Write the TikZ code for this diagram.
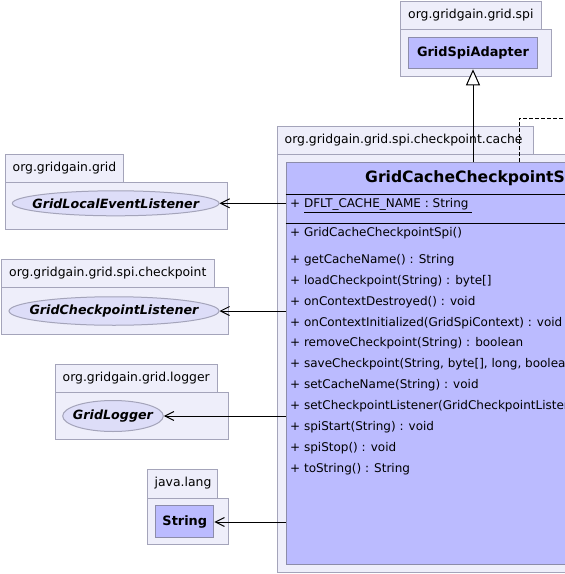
\documentclass[tikz,border=0pt]{standalone}
\usepackage{fontspec}
\setmainfont{DejaVu Sans}
\usetikzlibrary{arrows.meta,shapes.geometric}
\definecolor{pkgfill}{HTML}{EEEEFA}
\definecolor{pkgline}{HTML}{A4A4BA}
\definecolor{clsfill}{HTML}{BBBBFF}
\definecolor{clsline}{HTML}{8C8CAA}
\definecolor{ellfill}{HTML}{DDDDF8}
\begin{document}
\begin{tikzpicture}[x=1pt,y=-1pt,
  pkgbox/.style={draw=pkgline, fill=pkgfill, line width=1pt, inner sep=0pt, anchor=north west},
  clsbox/.style={draw=clsline, fill=clsfill, line width=1pt, inner sep=0pt, anchor=north west},
  ellnode/.style={ellipse, draw=pkgline, fill=ellfill, line width=1pt, inner sep=0pt},
  elltext/.style={inner sep=0pt, font=\fontsize{12.7}{15}\selectfont\bfseries\itshape},
  pkglabel/.style={anchor=west, inner sep=0pt, font=\fontsize{12.4}{15}\selectfont},
  clsname/.style={font=\fontsize{12.9}{15}\selectfont\bfseries, inner sep=0pt},
  member/.style={anchor=west, inner sep=0pt, font=\fontsize{12}{14}\selectfont},
  dep/.style={draw=black, line width=1pt, -{Straight Barb[length=9pt,width=9pt]}},
  inh/.style={draw=black, line width=1pt, -{Triangle[open, fill=white, length=16pt, width=14pt]}},
  realize/.style={draw=black, line width=1pt, dash pattern=on 4pt off 2pt}]
\useasboundingbox (0,0) rectangle (565,574);
\clip (0,0) rectangle (565,574);
\fill[white] (0,0) rectangle (565,574);

% package org.gridgain.grid.spi
\node[pkgbox, minimum width=140.7pt, minimum height=28pt] (spitab) at (400,1) {};
\node[pkgbox, minimum width=150.7pt, minimum height=47.3pt] (spibody) at (400,29) {};
\node[pkglabel] (spilabel) at (408,15) {org.gridgain.grid.spi};
\node[clsbox, minimum width=128.4pt, minimum height=31pt, clsname] (adapter) at (408.3,37.3) {GridSpiAdapter};

% package org.gridgain.grid.spi.checkpoint.cache
\node[pkgbox, minimum width=255.4pt, minimum height=28.3pt] (cachetab) at (277.3,126) {};
\node[pkgbox, minimum width=400pt, minimum height=418pt] (cachebody) at (277.3,154.3) {};
\node[pkglabel] (cachelabel) at (284.5,140.5) {org.gridgain.grid.spi.checkpoint.cache};
\node[clsbox, minimum width=375pt, minimum height=402pt] (main) at (285.5,162.3) {};
\node[font=\fontsize{15.6}{18}\selectfont\bfseries, inner sep=0pt, anchor=west] (title) at (365,178.5) {GridCacheCheckpointSpi};
\draw[black, line width=1pt] (285.5,194) -- (660.5,194);
\draw[black, line width=1pt] (285.5,223.3) -- (660.5,223.3);
\node[member] (f1) at (290,205.7) {+ \underline{DFLT\_CACHE\_NAME : String\ }};
\node[member] (c1) at (290,232.7) {+ GridCacheCheckpointSpi()};
\node[member] (m1) at (290,260.0) {+ getCacheName() : String};
\node[member] (m2) at (290,280.9) {+ loadCheckpoint(String) : byte[]};
\node[member] (m3) at (290,301.8) {+ onContextDestroyed() : void};
\node[member] (m4) at (290,322.7) {+ onContextInitialized(GridSpiContext) : void};
\node[member] (m5) at (290,343.6) {+ removeCheckpoint(String) : boolean};
\node[member] (m6) at (290,364.5) {+ saveCheckpoint(String, byte[], long, boolean) : boolean};
\node[member] (m7) at (290,385.4) {+ setCacheName(String) : void};
\node[member] (m8) at (290,406.3) {+ setCheckpointListener(GridCheckpointListener) : void};
\node[member] (m9) at (290,427.2) {+ spiStart(String) : void};
\node[member] (m10) at (290,448.1) {+ spiStop() : void};
\node[member] (m11) at (290,469.0) {+ toString() : String};

% package org.gridgain.grid
\node[pkgbox, minimum width=118pt, minimum height=28.3pt] (gridtab) at (4.7,154) {};
\node[pkgbox, minimum width=222.6pt, minimum height=47pt] (gridbody) at (4.7,182.3) {};
\node[pkglabel] (gridlabel) at (12.5,168.2) {org.gridgain.grid};
\node[ellnode, minimum width=206.7pt, minimum height=25pt] (gle) at (115.7,203.3) {};
\node[elltext] (gletext) at (gle.center) {GridLocalEventListener};

% package org.gridgain.grid.spi.checkpoint
\node[pkgbox, minimum width=213pt, minimum height=27.4pt] (cptab) at (1.3,259.3) {};
\node[pkgbox, minimum width=226.4pt, minimum height=47.6pt] (cpbody) at (1.3,286.7) {};
\node[pkglabel] (cplabel) at (9,273) {org.gridgain.grid.spi.checkpoint};
\node[ellnode, minimum width=210pt, minimum height=28.5pt] (gcl) at (114,311) {};
\node[elltext] (gcltext) at (gcl.center) {GridCheckpointListener};

% package org.gridgain.grid.logger
\node[pkgbox, minimum width=162pt, minimum height=28pt] (logtab) at (55.3,364.3) {};
\node[pkgbox, minimum width=172.4pt, minimum height=46.7pt] (logbody) at (55.3,392.3) {};
\node[pkglabel] (loglabel) at (62.5,378.3) {org.gridgain.grid.logger};
\node[ellnode, minimum width=100.6pt, minimum height=31pt] (glog) at (113,416) {};
\node[elltext] (glogtext) at (glog.center) {GridLogger};

% package java.lang
\node[pkgbox, minimum width=70pt, minimum height=28.4pt] (langtab) at (147.3,469.3) {};
\node[pkgbox, minimum width=80.4pt, minimum height=46.6pt] (langbody) at (147.3,497.7) {};
\node[pkglabel] (langlabel) at (154.5,483.5) {java.lang};
\node[clsbox, minimum width=58pt, minimum height=31.4pt, clsname] (string) at (155.3,505.3) {String};

% connectors
\draw[inh] (main.north west -| adapter.south) -- (adapter.south);
\coordinate (dashend) at (600,118.3);
\draw[realize] ([xshift=233.8pt]main.north west) |- (dashend);
\draw[dep] (main.west |- gle.east) -- (gle.east);
\draw[dep] (main.west |- gcl.east) -- (gcl.east);
\draw[dep] (main.west |- glog.east) -- (glog.east);
\draw[dep] ([yshift=-0.5pt]main.west |- string.east) -- ([yshift=-0.5pt]string.east);
\end{tikzpicture}
\end{document}
